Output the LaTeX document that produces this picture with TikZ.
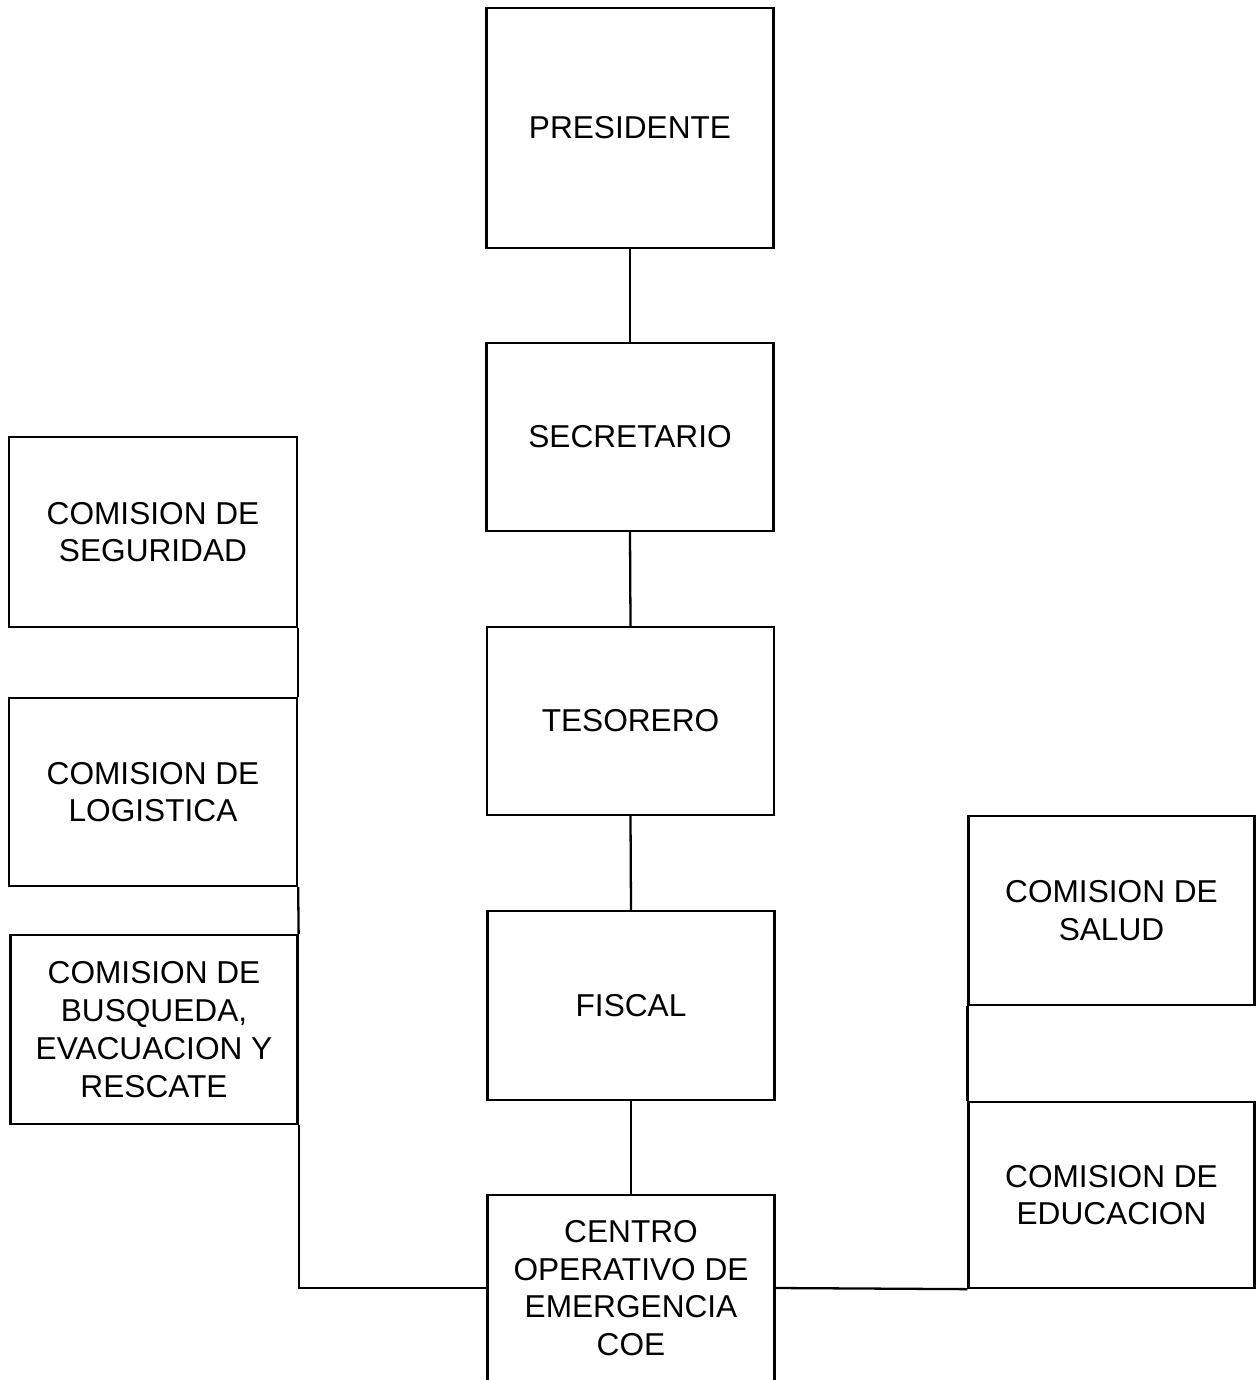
\documentclass[tikz,border=0pt]{standalone}
\usepackage{fontspec}
\setmainfont{Liberation Sans}
\tikzset{
  cargo/.style={rectangle, draw, line width=1.3pt, align=center,
    font=\fontsize{18}{21.5}\selectfont},
}
\begin{document}
\begin{tikzpicture}[line width=1.3pt]
  \useasboundingbox (0, 0) rectangle (25.12, -27.6);

  \node (presidente) [cargo, minimum height=4.8cm, minimum width=5.74cm] at (12.6, -2.56) {PRESIDENTE};
  \node (secretario) [cargo, minimum height=3.76cm, minimum width=5.74cm] at (12.6, -8.74) {SECRETARIO};
  \node (tesorero) [cargo, minimum height=3.76cm, minimum width=5.74cm] at (12.61, -14.42) {TESORERO};
  \node (fiscal) [cargo, minimum height=3.78cm, minimum width=5.74cm] at (12.62, -20.11) {FISCAL};
  \node (coe) [cargo, minimum height=3.72cm, minimum width=5.74cm] at (12.62, -25.76) {CENTRO\\OPERATIVO DE\\EMERGENCIA\\COE};

  \node (com-seguridad) [cargo, minimum height=3.8cm, minimum width=5.76cm] at (3.06, -10.64) {COMISION DE\\SEGURIDAD};
  \node (com-logistica) [cargo, minimum height=3.76cm, minimum width=5.76cm] at (3.06, -15.84) {COMISION DE\\LOGISTICA};
  \node (com-busqueda) [cargo, minimum height=3.78cm, minimum width=5.74cm] at (3.08, -20.59) {COMISION DE\\BUSQUEDA,\\EVACUACION Y\\RESCATE};

  \node (com-salud) [cargo, minimum height=3.78cm, minimum width=5.72cm] at (22.23, -18.21) {COMISION DE\\SALUD};
  \node (com-educacion) [cargo, minimum height=3.72cm, minimum width=5.72cm] at (22.23, -23.9) {COMISION DE\\EDUCACION};

  \draw (presidente.south) -- (secretario.north);
  \draw (secretario.south) -- (tesorero.north);
  \draw (tesorero.south) -- (fiscal.north);
  \draw (fiscal.south) -- (coe.north);

  \draw (com-seguridad.south east) -- (com-logistica.north east);
  \draw (com-logistica.south east) -- (com-busqueda.north east);
  \draw (com-busqueda.south east) |- (coe.west);

  \draw (coe.east) -- (com-educacion.south west);
  \draw (com-salud.south west) -- (com-educacion.north west);
\end{tikzpicture}
\end{document}
